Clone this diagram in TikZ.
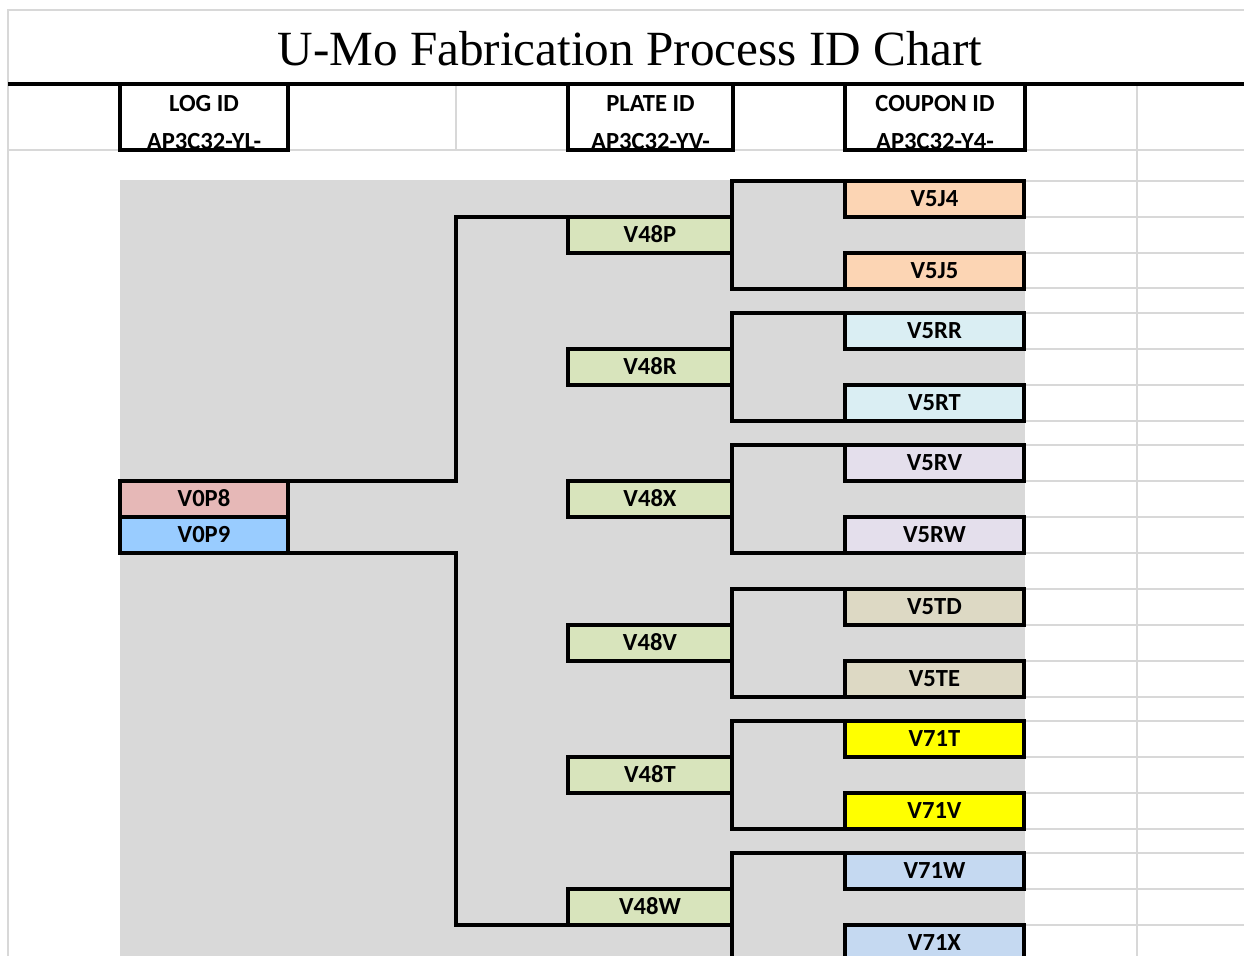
\documentclass[tikz,border=0pt]{standalone}
\usepackage{fontspec}
\newfontfamily\calib{Carlito}
\newfontfamily\titlefont{Liberation Serif}
\usetikzlibrary{positioning, calc}
\definecolor{cellgray}{RGB}{217,217,217}
\definecolor{gridgray}{RGB}{216,216,216}
\definecolor{logpink}{RGB}{230,184,183}
\definecolor{logblue}{RGB}{153,204,255}
\definecolor{plategreen}{RGB}{216,228,188}
\definecolor{peach}{RGB}{252,213,180}
\definecolor{iceblue}{RGB}{218,238,243}
\definecolor{lavender}{RGB}{228,223,236}
\definecolor{khaki}{RGB}{221,217,196}
\definecolor{brightyellow}{RGB}{255,255,0}
\definecolor{paleblue}{RGB}{197,217,241}

\begin{document}
\begin{tikzpicture}[x=0.02cm, y=-0.02cm,
    cell/.style={draw, line width=1.8pt, outer sep=0pt, inner sep=0pt, minimum height=0.72cm, text height=8.85pt, text depth=0pt, font=\calib\bfseries\fontsize{14}{16}\selectfont},
    coupon/.style={cell, minimum width=3.58cm},
    plate/.style={cell, fill=plategreen, minimum width=3.28cm},
    logbox/.style={cell, minimum width=3.36cm},
    hdr/.style={draw, line width=1.8pt, outer sep=0pt, minimum height=1.32cm},
    hdrtext/.style={anchor=base, inner sep=0pt, font=\calib\bfseries\fontsize{14}{16}\selectfont},
    link/.style={line width=1.8pt},
    grid/.style={draw=gridgray, line width=0.8pt}
]
    \clip (0,0) rectangle (1244,956);
    % sheet background
    \fill[cellgray] (120,180) rectangle (1025,956);
    \draw[grid] (8,956) -- (8,10) -- (1244,10);
    \draw[grid] (8,150) -- (1244,150);
    \draw[grid] (456,84) -- (456,150);
    \draw[grid] (1137,84) -- (1137,956);
    \foreach \y in {181,217,253,288,313,349,385,421,445,481,517,553,589,625,661,697,721,757,793,829,853,889,925}
        \draw[grid] (1025,\y) -- (1244,\y);
    \draw[line width=2pt] (8,84) -- (1244,84);

    % title and column headers
    \node[anchor=base, inner sep=0pt, font=\titlefont\fontsize{28}{32}\selectfont] (title) at (630,66) {U-Mo Fabrication Process ID Chart};
    \node[hdrtext] (hlog1) at (204,112) {LOG ID};
    \node[hdrtext] (hlog2) at (204,150) {AP3C32-YL-};
    \node[hdrtext] (hplate1) at (650.5,112) {PLATE ID};
    \node[hdrtext] (hplate2) at (650.5,150) {AP3C32-YV-};
    \node[hdrtext] (hcoupon1) at (935,112) {COUPON ID};
    \node[hdrtext] (hcoupon2) at (935,150) {AP3C32-Y4-};
    \node[hdr, minimum width=3.36cm] (hlog) at (204,117) {};
    \node[hdr, minimum width=3.30cm] (hplate) at (650.5,117) {};
    \node[hdr, minimum width=3.60cm] (hcoupon) at (935,117) {};

    % coupons
    \node[coupon, fill=peach] (c1) at (934.5,199) {V5J4};
    \node[coupon, fill=peach, below=0.72cm of c1] (c2) {V5J5};
    \node[coupon, fill=iceblue] (c3) at (934.5,331) {V5RR};
    \node[coupon, fill=iceblue, below=0.72cm of c3] (c4) {V5RT};
    \node[coupon, fill=lavender] (c5) at (934.5,463) {V5RV};
    \node[coupon, fill=lavender, below=0.72cm of c5] (c6) {V5RW};
    \node[coupon, fill=khaki] (c7) at (934.5,607) {V5TD};
    \node[coupon, fill=khaki, below=0.72cm of c7] (c8) {V5TE};
    \node[coupon, fill=brightyellow] (c9) at (934.5,739) {V71T};
    \node[coupon, fill=brightyellow, below=0.72cm of c9] (c10) {V71V};
    \node[coupon, fill=paleblue] (c11) at (934.5,871) {V71W};
    \node[coupon, fill=paleblue, below=0.72cm of c11] (c12) {V71X};

    % plates
    \node[plate] (p1) at (650,235) {V48P};
    \node[plate] (p2) at (650,367) {V48R};
    \node[plate] (p3) at (650,499) {V48X};
    \node[plate] (p4) at (650,643) {V48V};
    \node[plate] (p5) at (650,775) {V48T};
    \node[plate] (p6) at (650,907) {V48W};

    % logs
    \node[logbox, fill=logpink] (log8) at (204,499) {V0P8};
    \node[logbox, fill=logblue, below=0pt of log8] (log9) {V0P9};

    % brackets
    \draw[link] (c1.north west) -| (p1.east) |- (c2.south west);
    \draw[link] (c3.north west) -| (p2.east) |- (c4.south west);
    \draw[link] (c5.north west) -| (p3.east) |- (c6.south west);
    \draw[link] (c7.north west) -| (p4.east) |- (c8.south west);
    \draw[link] (c9.north west) -| (p5.east) |- (c10.south west);
    \draw[link] (c11.north west) -| (p6.east) |- (c12.south west);
    \coordinate (trunk) at (456,517);
    \draw[link] (log8.north east) -| (trunk |- p1.north west) -- (p1.north west);
    \draw[link] (log9.south east) -| (trunk |- p6.south west) -- (p6.south west);
\end{tikzpicture}
\end{document}
